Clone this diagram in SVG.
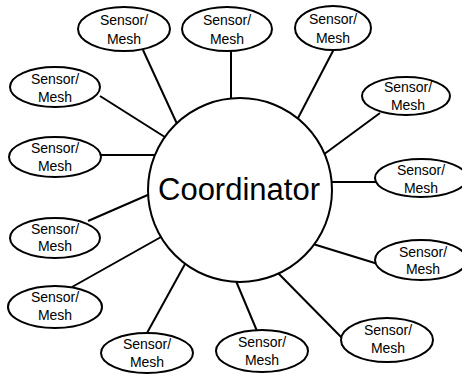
<svg xmlns="http://www.w3.org/2000/svg" width="462" height="374" viewBox="0 0 462 374">
  <style>
    .link { stroke: #000; stroke-width: 2; fill: none; }
    .node ellipse, .hub circle { fill: #fff; stroke: #000; stroke-width: 2; }
    .node text { font-family: "Liberation Sans", Arial, sans-serif; font-size: 14px; fill: #000; text-anchor: middle; }
    .hub text { font-family: "Liberation Sans", Arial, sans-serif; font-size: 31px; fill: #000; text-anchor: middle; }
  </style>
  <rect width="462" height="374" fill="#fff"/>

  <!-- spokes from the coordinator to each sensor node -->
  <g id="connectors">
    <line class="link" x1="143" y1="50" x2="178" y2="126"/>
    <line class="link" x1="231" y1="50" x2="231" y2="100"/>
    <line class="link" x1="334" y1="49" x2="297" y2="120"/>
    <line class="link" x1="380" y1="113" x2="323" y2="155"/>
    <line class="link" x1="378" y1="182" x2="328" y2="182"/>
    <line class="link" x1="378" y1="264" x2="313" y2="244"/>
    <line class="link" x1="344" y1="340" x2="277" y2="272"/>
    <line class="link" x1="257" y1="331" x2="236" y2="281"/>
    <line class="link" x1="147" y1="333" x2="185" y2="264"/>
    <line class="link" x1="72" y1="287" x2="161" y2="237"/>
    <line class="link" x1="88" y1="221" x2="150" y2="194"/>
    <line class="link" x1="99" y1="155" x2="155" y2="155"/>
    <line class="link" x1="100" y1="96" x2="168" y2="139"/>
  </g>

  <g id="coordinator" class="hub">
    <circle cx="240" cy="190" r="92"/>
    <text x="239" y="200">Coordinator</text>
  </g>

  <g id="sensor-1" class="node">
    <ellipse cx="124" cy="29" rx="46" ry="22"/>
    <text x="124" y="25">Sensor/</text><text x="124" y="44">Mesh</text>
  </g>
  <g id="sensor-2" class="node">
    <ellipse cx="227" cy="29" rx="45" ry="22"/>
    <text x="227" y="25">Sensor/</text><text x="227" y="44">Mesh</text>
  </g>
  <g id="sensor-3" class="node">
    <ellipse cx="333" cy="28" rx="38" ry="22"/>
    <text x="333" y="24">Sensor/</text><text x="333" y="43">Mesh</text>
  </g>
  <g id="sensor-4" class="node">
    <ellipse cx="406" cy="96" rx="44" ry="19"/>
    <text x="408" y="92">Sensor/</text><text x="408" y="110">Mesh</text>
  </g>
  <g id="sensor-5" class="node">
    <ellipse cx="421" cy="178" rx="46" ry="19"/>
    <text x="421" y="175">Sensor/</text><text x="421" y="193">Mesh</text>
  </g>
  <g id="sensor-6" class="node">
    <ellipse cx="421" cy="260" rx="46" ry="20"/>
    <text x="423" y="257">Sensor/</text><text x="423" y="274">Mesh</text>
  </g>
  <g id="sensor-7" class="node">
    <ellipse cx="387" cy="340" rx="46" ry="22"/>
    <text x="388" y="335">Sensor/</text><text x="388" y="353">Mesh</text>
  </g>
  <g id="sensor-8" class="node">
    <ellipse cx="262" cy="351" rx="46" ry="21"/>
    <text x="262" y="347">Sensor/</text><text x="262" y="365">Mesh</text>
  </g>
  <g id="sensor-9" class="node">
    <ellipse cx="147" cy="353" rx="46" ry="20"/>
    <text x="147" y="349">Sensor/</text><text x="147" y="367">Mesh</text>
  </g>
  <g id="sensor-10" class="node">
    <ellipse cx="55" cy="307" rx="47" ry="21"/>
    <text x="55" y="302">Sensor/</text><text x="55" y="320">Mesh</text>
  </g>
  <g id="sensor-11" class="node">
    <ellipse cx="55" cy="238" rx="45" ry="20"/>
    <text x="55" y="234">Sensor/</text><text x="55" y="251">Mesh</text>
  </g>
  <g id="sensor-12" class="node">
    <ellipse cx="55" cy="157" rx="46" ry="20"/>
    <text x="55" y="153">Sensor/</text><text x="55" y="171">Mesh</text>
  </g>
  <g id="sensor-13" class="node">
    <ellipse cx="55" cy="87" rx="45" ry="20"/>
    <text x="55" y="84">Sensor/</text><text x="55" y="102">Mesh</text>
  </g>
</svg>
